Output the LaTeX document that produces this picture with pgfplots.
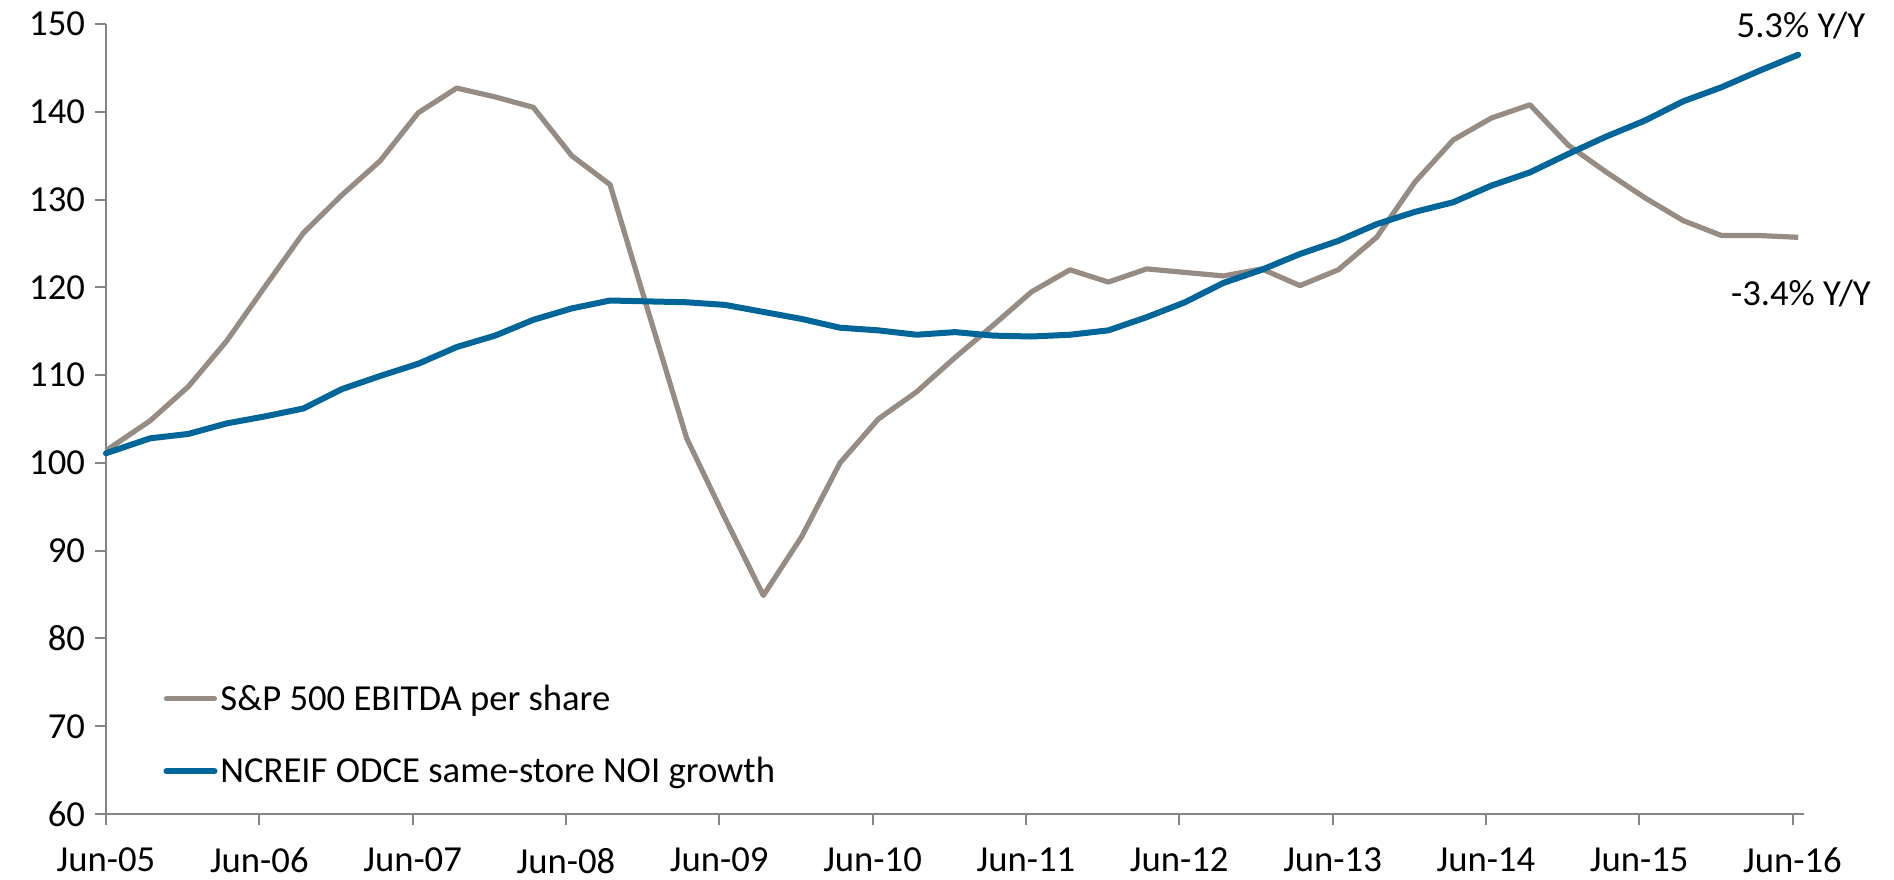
\documentclass[border=0pt]{standalone}
\usepackage{pgfplots}
\pgfplotsset{compat=1.18}
\usepackage{pgfplotstable}
\usepackage{fontspec}
\setmainfont{Carlito}
\definecolor{spgrey}{RGB}{150,140,131}
\definecolor{ncblue}{RGB}{0,101,153}
\definecolor{axgrey}{RGB}{134,134,134}
\pgfplotstableread{
x y
0 101.4
1.15 104.8
2.15 108.7
3.15 113.9
4.15 120.1
5.15 126.2
6.15 130.5
7.15 134.4
8.15 139.9
9.15 142.7
10.15 141.7
11.15 140.5
12.15 135.0
13.15 131.7
14.15 117.2
15.15 102.8
16.15 93.7
17.15 84.9
18.15 91.6
19.15 100.0
20.15 105.0
21.15 108.1
22.15 112.0
23.15 115.7
24.15 119.5
25.15 122.0
26.15 120.6
27.15 122.1
28.15 121.7
29.15 121.3
30.15 122.1
31.15 120.2
32.15 122.0
33.15 125.7
34.15 132.0
35.15 136.8
36.15 139.3
37.15 140.8
38.15 136.2
39.15 133.1
40.15 130.2
41.15 127.6
42.15 125.9
43.15 125.9
44.15 125.7
}\sptable
\pgfplotstableread{
x y
0 101.1
1.15 102.8
2.15 103.3
3.15 104.5
4.15 105.3
5.15 106.2
6.15 108.4
7.15 109.9
8.15 111.3
9.15 113.2
10.15 114.5
11.15 116.3
12.15 117.6
13.15 118.5
14.15 118.4
15.15 118.3
16.15 118.0
17.15 117.2
18.15 116.4
19.15 115.4
20.15 115.1
21.15 114.6
22.15 114.9
23.15 114.5
24.15 114.4
25.15 114.6
26.15 115.1
27.15 116.6
28.15 118.3
29.15 120.5
30.15 122.0
31.15 123.8
32.15 125.3
33.15 127.2
34.15 128.6
35.15 129.7
36.15 131.6
37.15 133.1
38.15 135.2
39.15 137.2
40.15 139.0
41.15 141.2
42.15 142.8
43.15 144.7
44.15 146.5
}\nctable
\begin{document}
\begin{tikzpicture}
\begin{axis}[
  at={(53bp,32.5bp)}, anchor=south west,
  scale only axis, width=849bp, height=395bp,
  xmin=0, xmax=44.3, ymin=60, ymax=150,
  axis lines*=left,
  axis line style={axgrey, line width=1bp},
  every tick/.style={axgrey, line width=1bp},
  tick align=outside, major tick length=5.5bp,
  xtick={0,4,...,44},
  xticklabels={Jun-05,Jun-06,Jun-07,Jun-08,Jun-09,Jun-10,Jun-11,Jun-12,Jun-13,Jun-14,Jun-15,Jun-16},
  ytick={60,70,...,150},
  /pgf/number format/assume math mode=true,
  tick label style={font=\fontsize{18.4}{22}\selectfont, black},
  yticklabel style={xshift=-1.5bp},
  xticklabel style={yshift=-8bp},
  clip=false,
  legend style={draw=none, fill=none, at={(0.0336,0.1)}, anchor=west,
    inner sep=0pt, row sep=22bp,
    font=\fontsize{18.4}{22}\selectfont,
    nodes={inner xsep=1.5bp, inner ysep=0pt}},
  legend cell align=left,
  legend image code/.code={\draw[#1, line cap=round] (0bp,0bp) -- (24bp,0bp);},
]
\addplot[spgrey, line width=2.6bp, line join=round] table[x=x,y=y] {\sptable};
\addlegendentry{S\&P 500 EBITDA per share}
\addplot[ncblue, line width=3bp, line join=round, line cap=round] table[x=x,y=y] {\nctable};
\addlegendentry{NCREIF ODCE same-store NOI growth}
\node[font=\fontsize{18.4}{22}\selectfont] at (axis cs:44.22,149.8) {5.3\% Y/Y};
\node[font=\fontsize{18.4}{22}\selectfont] at (axis cs:44.22,119.3) {-3.4\% Y/Y};
\end{axis}
\path (0,0) rectangle (947bp,439.5bp);
\end{tikzpicture}
\end{document}
